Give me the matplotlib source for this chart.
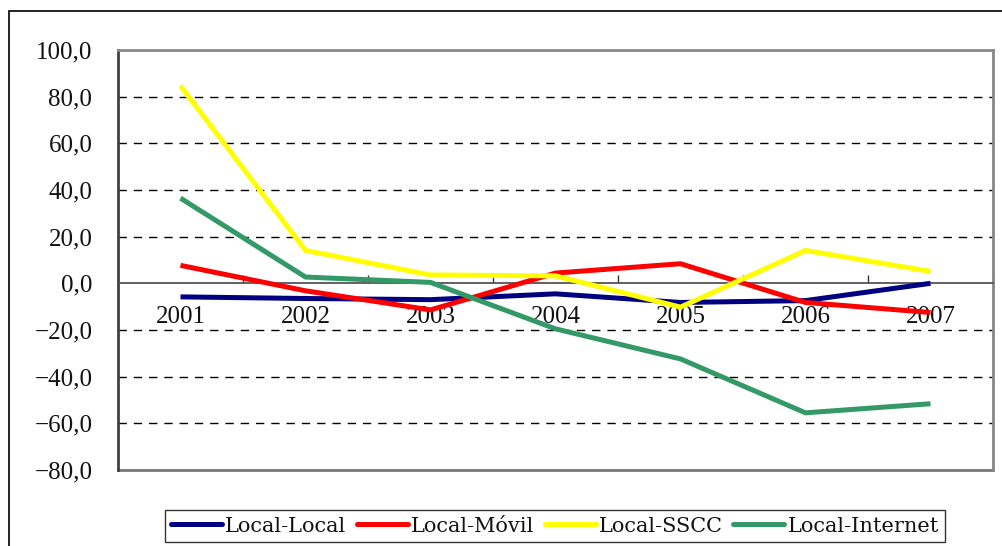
import matplotlib
matplotlib.use("Agg")
import matplotlib.pyplot as plt
from matplotlib.patches import Rectangle
from matplotlib.ticker import FuncFormatter

years = ["2001", "2002", "2003", "2004", "2005", "2006", "2007"]
local_local = [-5.8, -6.5, -7.0, -4.5, -8.2, -7.4, 0.0]
local_movil = [7.7, -3.2, -11.4, 4.4, 8.4, -8.2, -12.5]
local_sscc = [84.6, 14.1, 3.6, 3.2, -10.2, 14.1, 5.1]
local_internet = [36.5, 2.7, 0.4, -19.5, -32.4, -55.5, -51.6]

series_names = ["Local-Local", "Local-Móvil", "Local-SSCC", "Local-Internet"]
series_values = [local_local, local_movil, local_sscc, local_internet]
series_colors = ["#000080", "#FF0000", "#FFFF00", "#339966"]

plt.rcParams['font.family'] = ['Liberation Serif', 'DejaVu Serif']

fig = plt.figure(figsize=(10.02, 5.46), dpi=100)
ax = fig.add_axes([118/1002, 1-470/546, (993-118)/1002, (470-50)/546])

# outer frame
fig.patches.append(Rectangle((9/1002, -0.5), 2.0, 0.5 + 1 - 11/546,
                             transform=fig.transFigure, fill=False,
                             edgecolor='black', linewidth=1.2))

x = list(range(len(years)))
handles = []
for name, vals, col in zip(series_names, series_values, series_colors):
    h, = ax.plot(x, vals, color=col, linewidth=3.6, solid_capstyle='butt',
                 solid_joinstyle='miter', label=name, zorder=3)
    handles.append(h)

ax.set_xlim(-0.5, len(years) - 0.5)
ax.set_ylim(-80, 100)
ax.set_yticks(range(-80, 101, 20))
ax.yaxis.set_major_formatter(
    FuncFormatter(lambda v, p: f"{v:.1f}".replace('.', ',').replace('-', '\u2212')))
ax.tick_params(axis='y', length=0, pad=18.5, labelsize=18, labelcolor='#111111')

for v in range(-60, 100, 20):
    if v != 0:
        ax.axhline(v, color='black', linewidth=1, linestyle=(0, (6, 5)), zorder=1)

ax.spines['bottom'].set_position(('data', 0))
ax.spines['bottom'].set_color('#555555')
ax.spines['bottom'].set_linewidth(1.3)
ax.set_xticks([i + 0.5 for i in range(len(years))], minor=False)
ax.set_xticklabels([])
ax.set_xticks(x, minor=True)
ax.set_xticklabels(years, minor=True)
ax.tick_params(axis='x', which='major', direction='in', length=6, color='#333333', width=1)
ax.tick_params(axis='x', which='minor', length=0, pad=16.5, labelsize=18, labelcolor='#111111')

ax.spines['left'].set_color('#404040')
ax.spines['left'].set_linewidth(2)
for s in ['top', 'right']:
    ax.spines[s].set_color('#888888')
    ax.spines[s].set_linewidth(2)
ax.axhline(-80, color='#777777', linewidth=2, clip_on=False, zorder=2)

leg = fig.legend(handles=handles, loc='center', bbox_to_anchor=(555/1002, 1-526/546),
                 ncol=4, frameon=True, fancybox=False,
                 prop={'family': 'DejaVu Serif', 'size': 15},
                 handlelength=2.45, handletextpad=0.15, columnspacing=0.5,
                 borderpad=0.3, borderaxespad=0)
leg.get_frame().set_edgecolor('black')
leg.get_frame().set_linewidth(1)
for t in leg.get_texts():
    t.set_color('#111111')
for lh in leg.get_lines():
    lh.set_linewidth(3.6)
    lh.set_solid_capstyle('round')

fig.savefig("out.png", dpi=100)
